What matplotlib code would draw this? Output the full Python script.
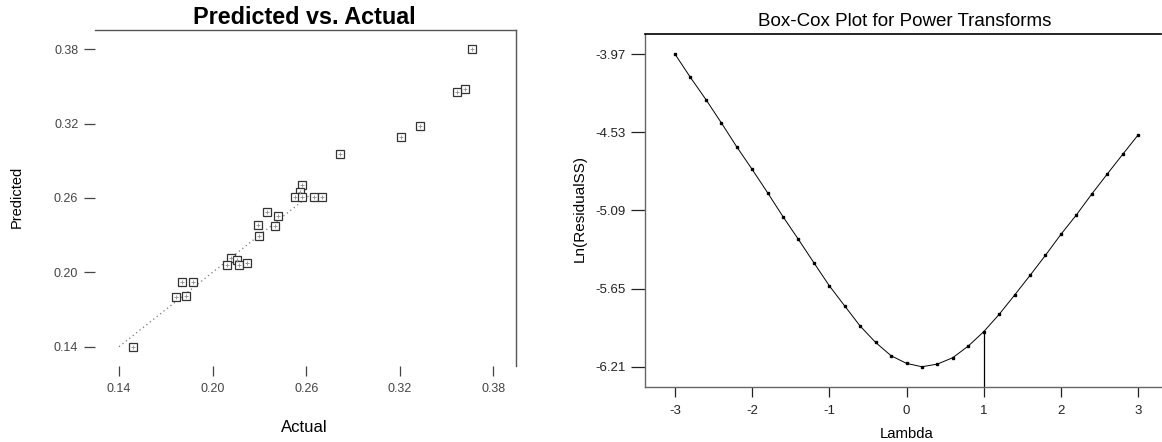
import matplotlib
matplotlib.use("Agg")
import matplotlib.pyplot as plt

# ---------------- data ----------------
actual = [0.366, 0.3616, 0.3567, 0.3332, 0.321, 0.2814, 0.2573, 0.2562,
          0.253, 0.2573, 0.2647, 0.2701, 0.2348, 0.2418, 0.229, 0.240,
          0.2298, 0.2119, 0.2155, 0.2091, 0.2166, 0.2223, 0.1802, 0.1873,
          0.1766, 0.183, 0.1492]
predicted = [0.380, 0.3476, 0.3456, 0.318, 0.309, 0.2954, 0.2705, 0.2651,
             0.2605, 0.2605, 0.2605, 0.2605, 0.249, 0.2456, 0.2384, 0.2376,
             0.229, 0.2117, 0.2096, 0.2058, 0.2063, 0.2077, 0.1924, 0.1924,
             0.1799, 0.1807, 0.140]
ref_line = [0.14, 0.262]
left_ticks = [0.14, 0.20, 0.26, 0.32, 0.38]
left_ticklabels = ["0.14", "0.20", "0.26", "0.32", "0.38"]

lam = [-3.0, -2.8, -2.6, -2.4, -2.2, -2.0, -1.8, -1.6, -1.4, -1.2, -1.0,
       -0.8, -0.6, -0.4, -0.2, 0.0, 0.2, 0.4, 0.6, 0.8, 1.0, 1.2, 1.4,
       1.6, 1.8, 2.0, 2.2, 2.4, 2.6, 2.8, 3.0]
ln_rss = [-3.970, -4.137, -4.295, -4.462, -4.634, -4.796, -4.963, -5.135,
          -5.298, -5.465, -5.630, -5.775, -5.919, -6.036, -6.131, -6.186,
          -6.210, -6.191, -6.145, -6.062, -5.959, -5.835, -5.697, -5.556,
          -5.412, -5.262, -5.123, -4.973, -4.830, -4.689, -4.550]
current_lambda = 1.0
current_value = -5.959
right_yticks = [-3.97, -4.53, -5.09, -5.65, -6.21]
right_yticklabels = ["-3.97", "-4.53", "-5.09", "-5.65", "-6.21"]
right_xticks = [-3, -2, -1, 0, 1, 2, 3]
right_xticklabels = ["-3", "-2", "-1", "0", "1", "2", "3"]

# ---------------- fonts ----------------
plt.rcParams['font.family'] = ['Liberation Sans', 'DejaVu Sans']

W, H = 1162, 442
fig = plt.figure(figsize=(W / 100, H / 100), dpi=100)
fig.patch.set_facecolor("white")

def rect(l, r, t, b):
    return [l / W, 1 - b / H, (r - l) / W, (b - t) / H]

spine_col = "#555555"

# ---------------- left: predicted vs actual ----------------
ax1 = fig.add_axes(rect(95, 516, 30, 366))
ax1.set_xlim(0.1246, 0.3945)
ax1.set_ylim(0.1244, 0.3956)
ax1.plot(ref_line, ref_line, linestyle=(0, (1, 2.5)), color="#777777", lw=0.9)
ax1.plot(actual, predicted, linestyle="none", marker="s", markersize=6.2,
         markerfacecolor="white", markeredgecolor="#333333", markeredgewidth=0.9)
ax1.plot(actual, predicted, linestyle="none", marker="+", markersize=3.5,
         markeredgecolor="#999999", markeredgewidth=0.7)
for side in ("left", "bottom"):
    ax1.spines[side].set_visible(False)
for side in ("top", "right"):
    ax1.spines[side].set_color(spine_col)
    ax1.spines[side].set_linewidth(1.0)
ax1.set_xticks(left_ticks)
ax1.set_xticklabels(left_ticklabels)
ax1.set_yticks(left_ticks)
ax1.set_yticklabels(left_ticklabels)
ax1.tick_params(axis="y", direction="out", length=8, width=0.9, pad=4,
                labelsize=9, colors="#444444")
ax1.tick_params(axis="x", direction="out", length=7, width=0.9, pad=5,
                labelsize=9, colors="#444444")
fig.text(304 / W, 1 - 17 / H, "Predicted vs. Actual", ha="center",
         va="center", fontsize=16.8, fontweight="bold")
fig.text(17 / W, 1 - 197 / H, "Predicted", rotation=90, ha="center",
         va="center", fontsize=10.5)
fig.text(304 / W, 1 - 428 / H, "Actual", ha="center", va="center", fontsize=12)

# ---------------- right: Box-Cox ----------------
ax2 = fig.add_axes(rect(645, 1161, 33.5, 386.7))
ax2.set_xlim(-3.389, 3.298)
ax2.set_ylim(-6.353, -3.822)
ax2.plot(lam, ln_rss, color="black", lw=0.7, marker="s", markersize=1.8)
ax2.vlines(current_lambda, -6.353, current_value, color="black", lw=0.9)
ax2.spines["right"].set_visible(False)
ax2.spines["top"].set_color("black")
ax2.spines["top"].set_linewidth(1.2)
for side in ("left", "bottom"):
    ax2.spines[side].set_color("#666666")
    ax2.spines[side].set_linewidth(1.0)
ax2.set_xticks(right_xticks)
ax2.set_xticklabels(right_xticklabels)
ax2.set_yticks(right_yticks)
ax2.set_yticklabels(right_yticklabels)
ax2.tick_params(axis="y", direction="out", length=10, width=0.9, pad=4,
                labelsize=9.5, colors="#222222")
ax2.tick_params(axis="x", direction="out", length=7, width=0.9, pad=6,
                labelsize=9.5, colors="#222222")
fig.text(905 / W, 1 - 21.5 / H, "Box-Cox Plot for Power Transforms",
         ha="center", va="center", fontsize=13.5)
fig.text(580 / W, 1 - 208.5 / H, "Ln(ResidualSS)", rotation=90, ha="center",
         va="center", fontsize=11)
fig.text(907 / W, 1 - 434 / H, "Lambda", ha="center", va="center",
         fontsize=10.7)

fig.savefig("out.png", dpi=100, facecolor="white")
